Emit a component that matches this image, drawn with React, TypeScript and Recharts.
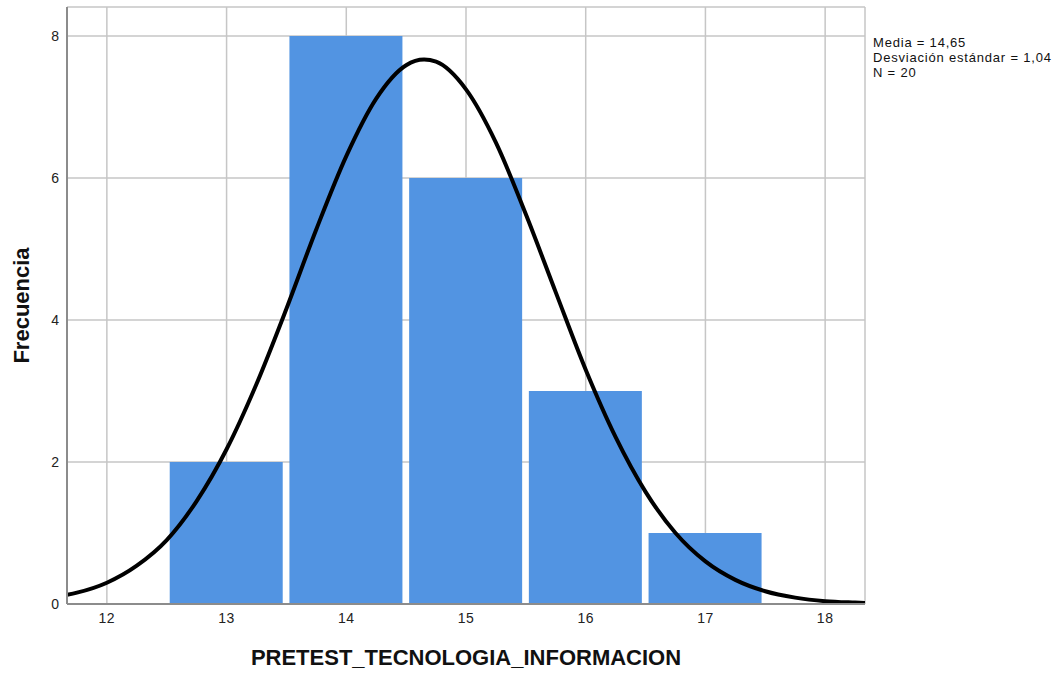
import React from 'react';
import { ComposedChart, Bar, Line, XAxis, YAxis, CartesianGrid } from 'recharts';

// histogram bins (bin centre) and their counts
const binCentres = [13, 14, 15, 16, 17];
const frequencies = [2, 8, 6, 3, 1];

// normal curve
const curveX = [
  11.667, 11.75, 12, 12.25, 12.5, 12.75, 13, 13.25, 13.5, 13.75, 14, 14.25, 14.5, 14.65,
  14.75, 15, 15.25, 15.5, 15.75, 16, 16.25, 16.5, 16.75, 17, 17.25, 17.5, 17.75, 18, 18.25, 18.333,
];
const curveY = [
  0.13, 0.16, 0.3, 0.54, 0.9, 1.45, 2.18, 3.1, 4.16, 5.28, 6.31, 7.12, 7.59, 7.67,
  7.64, 7.25, 6.5, 5.49, 4.39, 3.3, 2.35, 1.58, 1.0, 0.6, 0.34, 0.18, 0.09, 0.04, 0.02, 0.015,
];

const xTicks = [12, 13, 14, 15, 16, 17, 18];
const yTicks = [0, 2, 4, 6, 8];

const mediaText = 'Media = 14,65';
const sdText = 'Desviación estándar = 1,04';
const nText = 'N = 20';

const barData = binCentres.map((x, i) => ({ x, freq: frequencies[i] }));
const curveData = curveX.map((x, i) => ({ x, y: curveY[i] }));

const FONT = "Arial, 'Liberation Sans', sans-serif";
const X_DOMAIN: [number, number] = [11.667, 18.333];

const App: React.FC = () => {
  return (
    <div style={{ position: 'absolute', left: 0, top: 0, width: 1062, height: 677, fontFamily: FONT }}>
      <ComposedChart
        width={1062}
        height={677}
        data={barData}
        margin={{ top: 7, right: 197, left: 7, bottom: 43 }}
      >
        <CartesianGrid
          xAxisId="main"
          stroke="#c6c6c6"
          strokeWidth={1.5}
        />
        <XAxis
          xAxisId="main"
          dataKey="x"
          type="number"
          domain={X_DOMAIN}
          allowDataOverflow
          ticks={xTicks}
          height={30}
          tickSize={0}
          tickMargin={9}
          axisLine={{ stroke: '#8c8c8c', strokeWidth: 2 }}
          tick={{ fontSize: 14, fill: '#222', fontFamily: FONT, letterSpacing: 0.5 }}
          label={{
            value: 'PRETEST_TECNOLOGIA_INFORMACION',
            position: 'bottom',
            offset: 15,
            style: { fontSize: 22, fontWeight: 'bold', fill: '#111', fontFamily: FONT },
          }}
        />
        <XAxis
          xAxisId="bars"
          dataKey="x"
          type="number"
          domain={X_DOMAIN}
          allowDataOverflow
          height={0}
          hide
        />
        <YAxis
          type="number"
          domain={[0, 8.41]}
          allowDataOverflow
          ticks={yTicks}
          width={60}
          tickSize={0}
          tickMargin={8}
          axisLine={{ stroke: '#8c8c8c', strokeWidth: 2 }}
          tick={{ fontSize: 14, fill: '#222', fontFamily: FONT }}
          label={{
            value: 'Frecuencia',
            angle: -90,
            position: 'insideLeft',
            offset: 14,
            style: { fontSize: 22, fontWeight: 'bold', fill: '#111', fontFamily: FONT, textAnchor: 'middle' },
          }}
        />
        <Bar xAxisId="bars" dataKey="freq" fill="#5294e2" barSize={113} isAnimationActive={false} />
        <Line
          xAxisId="main"
          data={curveData}
          dataKey="y"
          type="monotone"
          stroke="#000"
          strokeWidth={4}
          dot={false}
          activeDot={false}
          isAnimationActive={false}
        />
      </ComposedChart>
      <div
        style={{
          position: 'absolute',
          left: 873,
          top: 35,
          fontSize: 13,
          letterSpacing: 0.8,
          lineHeight: '15px',
          color: '#111',
          whiteSpace: 'nowrap',
        }}
      >
        <div>{mediaText}</div>
        <div>{sdText}</div>
        <div>{nText}</div>
      </div>
    </div>
  );
};

export default App;
